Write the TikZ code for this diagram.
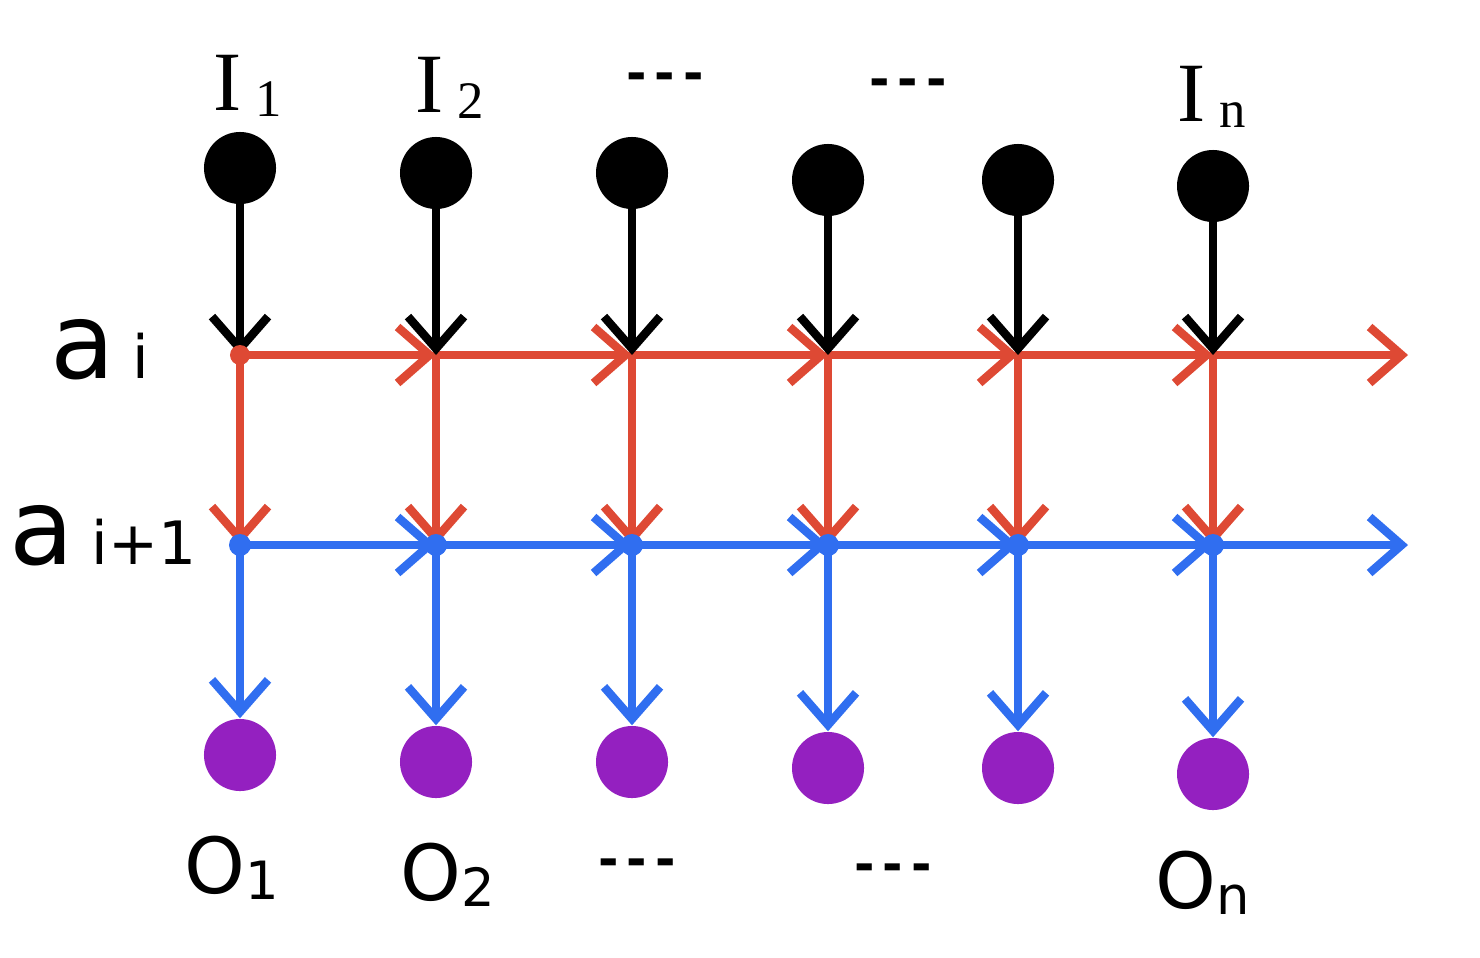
\documentclass[tikz,border=0pt]{standalone}
\usepackage{fontspec}
\setmainfont{DejaVu Sans}
\newfontfamily\serf{Liberation Serif}
\usetikzlibrary{arrows.meta}
\definecolor{cred}{RGB}{222,73,52}
\definecolor{cblue}{RGB}{48,110,240}
\definecolor{cpurple}{RGB}{148,32,192}
\newcommand{\smallsub}[1]{{\fontsize{15}{17}\selectfont\raisebox{-0.12em}{#1}}}
\tikzset{
  tip/.style={-{Straight Barb[length=3.2mm,width=5.6mm,line width=2.4pt]}},
  blackdot/.style={circle,fill=black,minimum size=0.72cm,inner sep=0pt},
  purpledot/.style={circle,fill=cpurple,minimum size=0.72cm,inner sep=0pt},
  blackarr/.style={tip,black,line width=2.4pt,line cap=round},
  redarr/.style={tip,cred,line width=2.4pt,line cap=round},
  bluearr/.style={tip,cblue,line width=2.4pt,line cap=round},
  ilab/.style={font=\serf\fontsize{24}{28}\selectfont,inner sep=0pt},
  olab/.style={font=\fontsize{22}{26}\selectfont,inner sep=0pt},
  dots/.style={font=\bfseries\fontsize{14}{16}\selectfont,inner sep=0pt},
  rowlab/.style={font=\fontsize{30}{34}\selectfont,inner sep=0pt},
}
\begin{document}
\begin{tikzpicture}[x=0.01cm,y=-0.01cm]
\useasboundingbox (0,0) rectangle (1480,957);
% columns
\foreach \i/\x/\yt/\yb in {1/240/168/755,2/436/173/762,3/632/173/762,4/828/180/768,5/1018/180/768,6/1213/186/774}{
  \node[blackdot] (t\i) at (\x,\yt) {};
  \node[purpledot] (o\i) at (\x,\yb) {};
  \coordinate (r\i) at (\x,355);
  \coordinate (b\i) at (\x,545);
}
\coordinate (rend) at (1408,355);
\coordinate (bend) at (1408,545);
% horizontals
\foreach \i/\j in {1/2,2/3,3/4,4/5,5/6}{
  \draw[redarr] (r\i) -- (r\j);
  \draw[bluearr] (b\i) -- (b\j);
}
\draw[redarr] (r6) -- (rend);
\draw[bluearr] (b6) -- (bend);
% verticals
\foreach \i in {1,...,6}{
  \draw[redarr] (r\i) -- (b\i);
  \draw[bluearr] (b\i) -- (o\i.north);
  \draw[blackarr] (t\i.center) -- (r\i);
  \fill[cblue] (b\i) circle (0.11cm);
}
\fill[cred] (r1) circle (0.1cm);
% labels
\node[ilab] (li1) at (248,86) {I\,\smallsub{1}};
\node[ilab] (li2) at (450,88) {I\,\smallsub{2}};
\node[dots] (ld1) at (665,82) {-\,-\,-};
\node[dots] (ld2) at (908,88) {-\,-\,-};
\node[ilab] (lin) at (1212,97) {I\,\smallsub{n}};
\node[rowlab] (lai) at (100,350) {a\,{\fontsize{17}{19}\selectfont i}};
\node[rowlab] (lai1) at (103,536) {a\,{\fontsize{17}{19}\selectfont i+1}};
\node[olab] (lo1) at (232,868) {O\smallsub{1}};
\node[olab] (lo2) at (448,875) {O\smallsub{2}};
\node[dots] (ld3) at (637,868) {-\,-\,-};
\node[dots] (ld4) at (893,873) {-\,-\,-};
\node[olab] (lon) at (1203,883) {O\smallsub{n}};
\end{tikzpicture}
\end{document}
